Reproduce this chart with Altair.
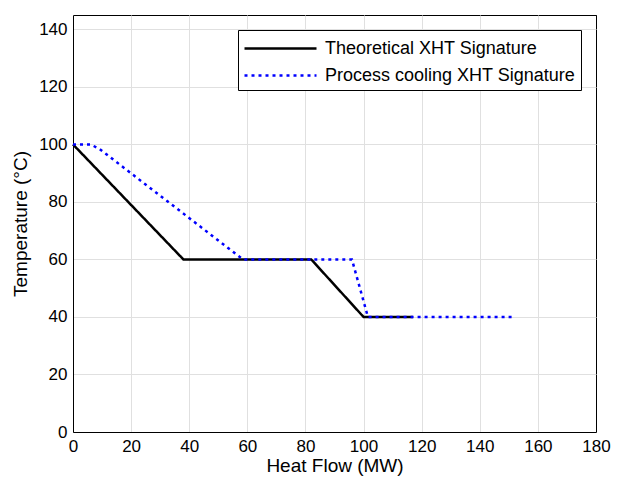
import altair as alt
import pandas as pd

series_names = ["Theoretical XHT Signature", "Process cooling XHT Signature"]
theo_x = [0, 38, 82, 100, 117]
theo_y = [100, 60, 60, 40, 40]
proc_x = [0, 6, 9, 58.5, 96, 101.5, 152]
proc_y = [100, 100, 98.5, 60, 60, 40, 40]
x_ticks = list(range(0, 181, 20))
y_ticks = list(range(0, 141, 20))

rows = []
for i, (x, y) in enumerate(zip(theo_x, theo_y)):
    rows.append({"series": series_names[0], "x": x, "y": y, "o": i})
for i, (x, y) in enumerate(zip(proc_x, proc_y)):
    rows.append({"series": series_names[1], "x": x, "y": y, "o": i})
df = pd.DataFrame(rows)

FONT = "Liberation Sans"

chart = alt.Chart(df).mark_line(strokeWidth=2.5, strokeCap="butt").encode(
    x=alt.X("x:Q", scale=alt.Scale(domain=[0, 180], nice=False),
            axis=alt.Axis(title="Heat Flow (MW)", values=x_ticks,
                          gridColor={"condition": {"test": "datum.value >= 180", "value": "#000000"},
                                     "value": "#e0e0e0"})),
    y=alt.Y("y:Q", scale=alt.Scale(domain=[0, 145], nice=False),
            axis=alt.Axis(title="Temperature (°C)", values=y_ticks)),
    color=alt.Color("series:N", scale=alt.Scale(domain=series_names, range=["#000000", "#0000ff"]),
                    legend=alt.Legend(title=None, orient="top-right", offset=15,
                                      symbolType="M-1,0H5", symbolSize=576,
                                      symbolStrokeWidth=2.5, labelOffset=55,
                                      labelFont=FONT, labelFontSize=18, labelColor="#000000",
                                      labelLimit=400, rowPadding=4, padding=5,
                                      strokeColor="#000000", fillColor="#ffffff",
                                      cornerRadius=0)),
    strokeDash=alt.StrokeDash("series:N", scale=alt.Scale(domain=series_names, range=[[1, 0], [3, 4]]),
                              legend=alt.Legend(title=None)),
    order="o:Q",
).properties(
    width=523, height=417,
    autosize=alt.AutoSizeParams(type="none"),
    padding={"left": 65, "top": 7, "right": 15, "bottom": 45},
).configure(
    background="#ffffff"
).configure_view(
    stroke="#000000", strokeWidth=1
).configure_axis(
    labelFont=FONT, titleFont=FONT, labelFontSize=17, titleFontSize=19,
    labelColor="#000000", titleColor="#000000", titleFontWeight="normal",
    grid=True, gridColor="#e0e0e0", gridWidth=1,
    domain=True, domainColor="#000000", domainWidth=1,
    ticks=False, labelPadding=6, labelFlush=False, labelOverlap=False,
).configure_axisX(
    titlePadding=2
).configure_axisY(
    titlePadding=8
)

chart.save("out.html", embed_options={"renderer": "svg", "actions": False})
